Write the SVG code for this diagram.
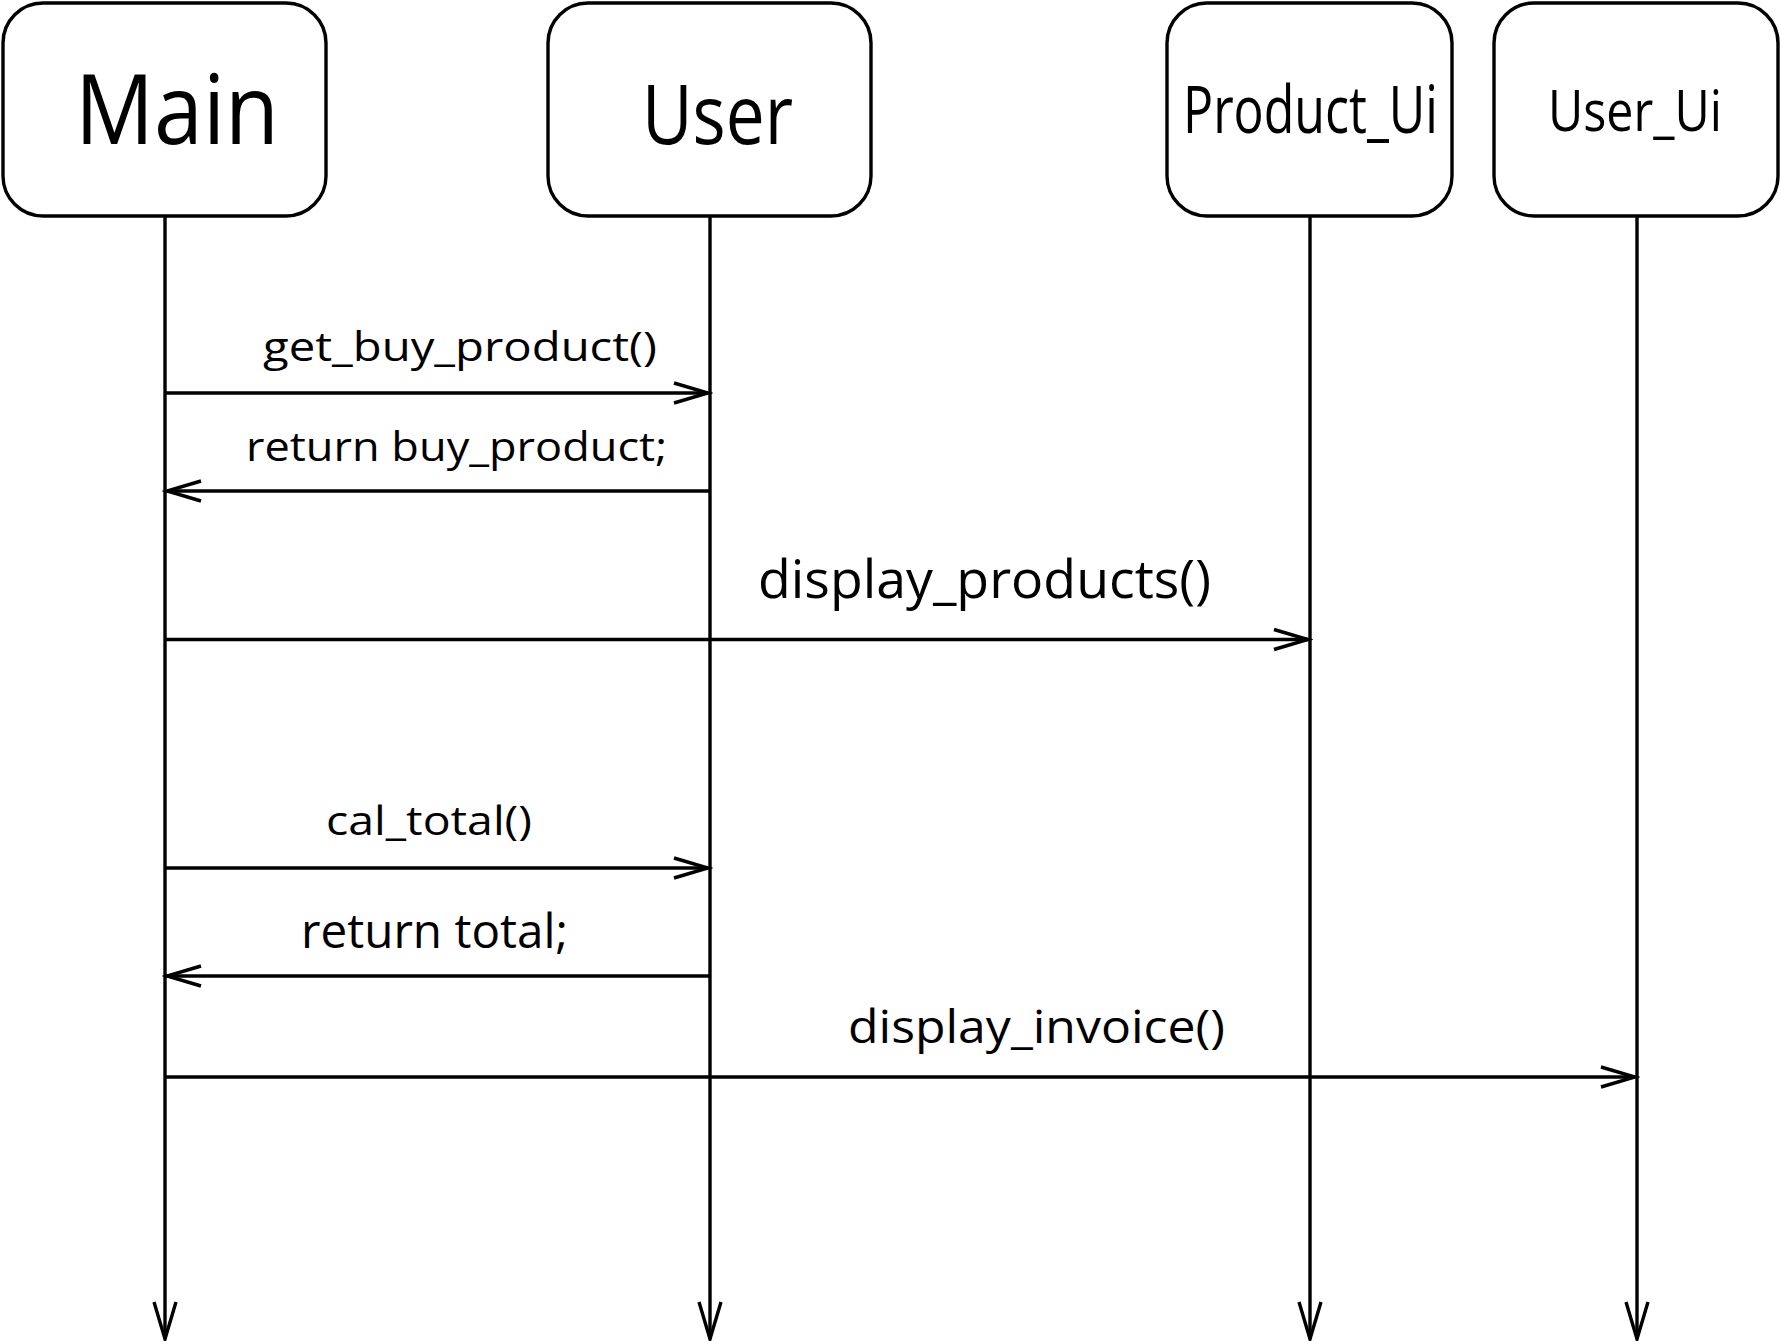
<svg xmlns="http://www.w3.org/2000/svg" width="1781" height="1341" viewBox="0 0 1781 1341">
<style>
.box{fill:#fff;stroke:#000;stroke-width:3.4}
.life{stroke:#000;stroke-width:3.4;fill:none}
.msg{stroke:#000;stroke-width:3.4;fill:none}
text{font-family:"Open Sans","Liberation Sans",sans-serif;fill:#000}
</style>
<defs>
<marker id="ah" markerUnits="userSpaceOnUse" viewBox="-40 -15 45 30" markerWidth="45" markerHeight="30" refX="0" refY="0" orient="auto">
<path d="M -34 -10 L 0 0 L -34 10" fill="none" stroke="#000" stroke-width="3.4"/>
</marker>
<marker id="lh" markerUnits="userSpaceOnUse" viewBox="-42 -15 47 30" markerWidth="47" markerHeight="30" refX="0" refY="0" orient="auto">
<path d="M -37 -11 L 0 0 L -37 11" fill="none" stroke="#000" stroke-width="3.4"/>
</marker>
</defs>
<rect width="1781" height="1341" fill="#fff"/>
<g id="connectors">
<line class="life" x1="165" y1="216" x2="165" y2="1339" marker-end="url(#lh)"/>
<line class="life" x1="710" y1="216" x2="710" y2="1339" marker-end="url(#lh)"/>
<line class="life" x1="1310" y1="216" x2="1310" y2="1339" marker-end="url(#lh)"/>
<line class="life" x1="1637" y1="216" x2="1637" y2="1339" marker-end="url(#lh)"/>
<line class="msg" x1="165" y1="393" x2="708" y2="393" marker-end="url(#ah)"/>
<text x="263" y="361" font-size="41" textLength="394" lengthAdjust="spacingAndGlyphs">get_buy_product()</text>
<line class="msg" x1="710" y1="491" x2="167" y2="491" marker-end="url(#ah)"/>
<text x="246" y="461" font-size="41" textLength="421" lengthAdjust="spacingAndGlyphs">return buy_product;</text>
<line class="msg" x1="165" y1="639.5" x2="1308" y2="639.5" marker-end="url(#ah)"/>
<text x="758" y="598" font-size="53" textLength="453" lengthAdjust="spacingAndGlyphs">display_products()</text>
<line class="msg" x1="165" y1="868" x2="708" y2="868" marker-end="url(#ah)"/>
<text x="326" y="835" font-size="41" textLength="206" lengthAdjust="spacingAndGlyphs">cal_total()</text>
<line class="msg" x1="710" y1="976" x2="167" y2="976" marker-end="url(#ah)"/>
<text x="301" y="948" font-size="47" textLength="267" lengthAdjust="spacingAndGlyphs">return total;</text>
<line class="msg" x1="165" y1="1077" x2="1635" y2="1077" marker-end="url(#ah)"/>
<text x="848" y="1043" font-size="45" textLength="377" lengthAdjust="spacingAndGlyphs">display_invoice()</text>
</g>
<g id="node-main">
<rect class="box" x="3" y="3" width="323" height="213" rx="40" ry="40"/>
<text x="75" y="144" font-size="97" textLength="204" lengthAdjust="spacingAndGlyphs">Main</text>
</g>
<g id="node-user">
<rect class="box" x="548" y="3" width="323" height="213" rx="40" ry="40"/>
<text x="642" y="144" font-size="82" textLength="151" lengthAdjust="spacingAndGlyphs">User</text>
</g>
<g id="node-product-ui">
<rect class="box" x="1167" y="3" width="285" height="213" rx="40" ry="40"/>
<text x="1183" y="133" font-size="66" textLength="255" lengthAdjust="spacingAndGlyphs">Product_Ui</text>
</g>
<g id="node-user-ui">
<rect class="box" x="1494" y="3" width="284" height="213" rx="40" ry="40"/>
<text x="1548" y="131" font-size="57" textLength="174" lengthAdjust="spacingAndGlyphs">User_Ui</text>
</g>
</svg>
